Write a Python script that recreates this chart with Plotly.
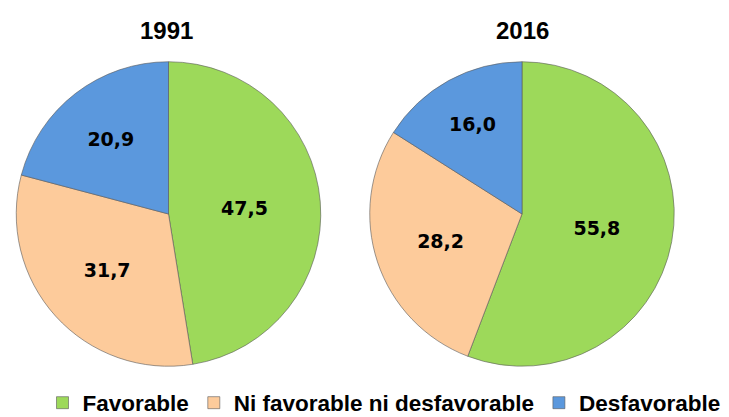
import plotly.graph_objects as go

categories = ["Favorable", "Ni favorable ni desfavorable", "Desfavorable"]
years = ["1991", "2016"]
values_1991 = [47.5, 31.7, 20.9]
values_2016 = [55.8, 28.2, 16.0]
colors = ["#9DD95A", "#FDCB9B", "#5B98DD"]

def fmt(v):
    return f"{v:.1f}".replace(".", ",")

W, H = 729, 417
OFF, HEFF = 8, 409  # page offset / effective drawing height observed in render

def px_x(p):
    return (p - OFF) / W

def px_y(p):
    return 1 - (p - OFF) / HEFF

fig = go.Figure()
doms_px = [(15, 322, 62, 368), (368, 676, 62, 368)]
domains = [dict(x=[px_x(a), px_x(b)], y=[px_y(d), px_y(c)]) for a, b, c, d in doms_px]
for vals, dom, yr in zip([values_1991, values_2016], domains, years):
    fig.add_trace(go.Pie(
        labels=categories, values=vals, text=[fmt(v) for v in vals],
        textinfo="text", textposition="inside", insidetextorientation="horizontal",
        sort=False, direction="clockwise", rotation=0,
        marker=dict(colors=colors, line=dict(color="rgba(90,90,90,0.6)", width=1)),
        textfont=dict(family="DejaVu Sans", size=19, color="black", weight="bold"),
        domain=dom, name=yr, showlegend=(yr == "1991"),
    ))

for yr, xc in zip(years, [166, 522]):
    fig.add_annotation(text=f"<b>{yr}</b>", x=px_x(xc), y=px_y(31), xref="paper", yref="paper",
                       xanchor="center", yanchor="middle", showarrow=False,
                       font=dict(family="Liberation Sans", size=24, color="black"))

fig.update_layout(
    width=W, height=H, margin=dict(l=0, r=0, t=0, b=0),
    paper_bgcolor="white", plot_bgcolor="white",
    legend=dict(orientation="h", x=px_x(384), xanchor="center", y=px_y(405), yanchor="middle",
                font=dict(family="Liberation Sans", size=22.5, color="black", weight="bold"),
                itemwidth=30, traceorder="normal"),
)
fig.write_html("out.html")
